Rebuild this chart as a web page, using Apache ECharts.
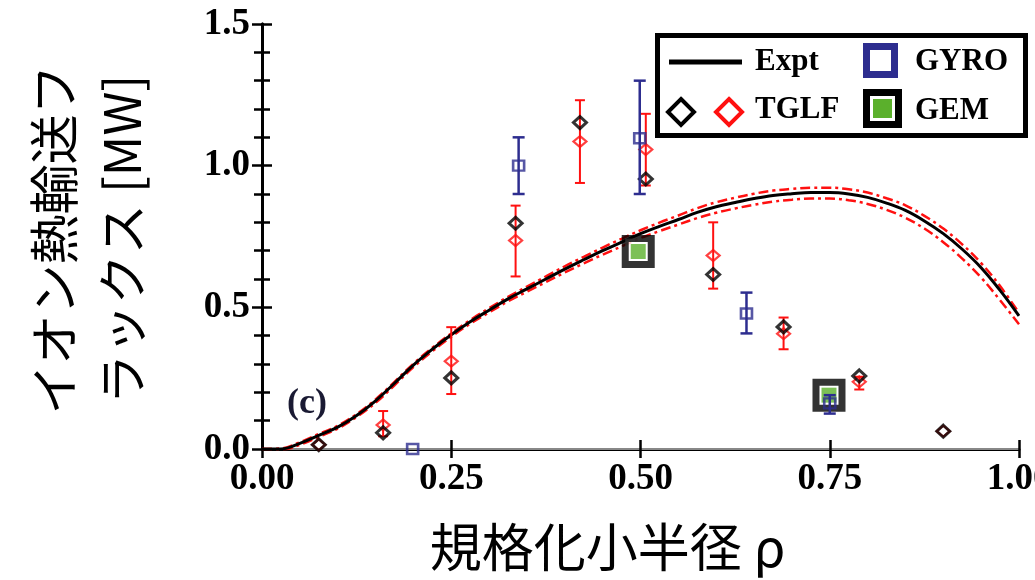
<!DOCTYPE html>
<html>
<head>
<meta charset="utf-8">
<script src="https://cdn.jsdelivr.net/npm/echarts@6/dist/echarts.min.js"></script>
<style>html,body{margin:0;padding:0;background:#fff;}#c{width:1035px;height:580px;}</style>
</head>
<body>
<div id="c"></div>
<script>
// ---- data ----
const exptRho = [0,0.025,0.05,0.075,0.1,0.125,0.15,0.175,0.2,0.225,0.25,0.275,0.3,0.325,0.35,0.375,0.4,0.425,0.45,0.475,0.5,0.525,0.55,0.575,0.6,0.625,0.65,0.675,0.7,0.725,0.75,0.775,0.8,0.825,0.85,0.875,0.9,0.925,0.95,0.975,1.0];
const expt = [0,0.0,0.02,0.048,0.077,0.118,0.17,0.232,0.296,0.352,0.403,0.449,0.49,0.53,0.565,0.60,0.635,0.668,0.70,0.73,0.76,0.786,0.81,0.835,0.855,0.87,0.884,0.895,0.901,0.905,0.905,0.90,0.888,0.868,0.842,0.805,0.76,0.705,0.64,0.56,0.47];
const exptUpper = [0,0.002,0.024,0.053,0.082,0.123,0.175,0.237,0.301,0.357,0.408,0.455,0.497,0.537,0.573,0.609,0.645,0.678,0.711,0.742,0.772,0.799,0.824,0.85,0.871,0.887,0.901,0.912,0.918,0.922,0.922,0.917,0.905,0.885,0.86,0.823,0.778,0.722,0.656,0.575,0.48];
const exptLower = [0,-0.003,0.015,0.043,0.072,0.113,0.163,0.225,0.289,0.345,0.396,0.442,0.482,0.521,0.555,0.589,0.623,0.655,0.686,0.715,0.744,0.769,0.792,0.815,0.834,0.849,0.862,0.873,0.88,0.884,0.884,0.878,0.865,0.844,0.816,0.778,0.73,0.672,0.605,0.525,0.44];

const tglfRho   = [0.075,0.16,0.25,0.335,0.42,0.507,0.596,0.689,0.789,0.90];
const tglfBlack = [0.015,0.057,0.251,0.797,1.152,0.953,0.616,0.431,0.258,0.063];
const tglfRed   = [0.015,0.085,0.31,0.736,1.085,1.057,0.683,0.407,0.237,0.063];
const tglfRedLo = [null,0.045,0.194,0.609,0.939,0.93,0.566,0.352,0.21,null];
const tglfRedHi = [null,0.134,0.43,0.859,1.231,1.183,0.80,0.464,0.255,null];

const gyroRho = [0.199,0.339,0.499,0.640,0.750];
const gyroVal = [0.0,1.0,1.097,0.478,0.161];
const gyroLo  = [null,0.90,0.90,0.408,0.125];
const gyroHi  = [null,1.10,1.30,0.552,0.19];

const gemRho = [0.497,0.749];
const gemVal = [0.697,0.19];

const xTicks = [0,0.25,0.5,0.75,1.0];
const yTicks = [0,0.5,1.0,1.5];

// ---- build ----
const zip = (a,b) => a.map((v,i)=>[v,b[i]]);
const zip3 = (a,b,c) => a.map((v,i)=>[v,b[i],c[i]]);
const RED = '#ff1010', BLUE = '#2d2d8f', GREEN = '#5bb02c';
const serif = 'Liberation Serif';

function errBar(color, lw, cap){
  return function(params, api){
    const lo = api.value(1), hi = api.value(2);
    if (isNaN(lo) || isNaN(hi)) return null;
    const x = api.value(0);
    const p1 = api.coord([x, lo]), p2 = api.coord([x, hi]);
    const st = {stroke: color, lineWidth: lw};
    return {type:'group', children:[
      {type:'line', shape:{x1:p1[0],y1:p1[1],x2:p2[0],y2:p2[1]}, style:st},
      {type:'line', shape:{x1:p1[0]-cap,y1:p1[1],x2:p1[0]+cap,y2:p1[1]}, style:st},
      {type:'line', shape:{x1:p2[0]-cap,y1:p2[1],x2:p2[0]+cap,y2:p2[1]}, style:st}
    ]};
  };
}

const axisLine = {lineStyle:{color:'#000', width:3}};
const labelStyle = {fontFamily: serif, fontWeight:'bold', fontSize:37, color:'#000'};

const option = {
  animation:false,
  backgroundColor:'#fff',
  grid:{left:262, right:16, top:24, bottom:131, containLabel:false, outerBoundsMode:'none'},
  xAxis:[{
    type:'value', min:0, max:1, interval:0.25, position:'bottom',
    axisLine, axisTick:{inside:true, length:9, lineStyle:{width:2.5,color:'#000'}},
    splitLine:{show:false},
    axisLabel:{...labelStyle, margin:12, hideOverlap:false, formatter: v => xTicks.includes(v) ? v.toFixed(2) : ''},
    name:'規格化小半径 ρ', nameLocation:'middle', nameGap:72,
    nameTextStyle:{fontFamily:'Noto Sans CJK JP', fontSize:52, color:'#000', padding:[0,66,0,0]}
  },{
    type:'value', min:0, max:1, interval:0.25, position:'top',
    axisLine:{lineStyle:{color:'#888', width:2}}, axisTick:{inside:true, length:9, lineStyle:{width:2.5,color:'#000'}},
    axisLabel:{show:false}, splitLine:{show:false}
  }],
  yAxis:[{
    type:'value', min:0, max:1.5, interval:0.5, position:'left',
    axisLine, axisTick:{inside:true, length:10, lineStyle:{width:2.5,color:'#000'}},
    minorTick:{show:true, splitNumber:5, length:8, lineStyle:{width:2.5,color:'#000'}},
    splitLine:{show:false},
    axisLabel:{...labelStyle, margin:12, formatter: v => yTicks.includes(v) ? v.toFixed(1) : ''},
    name:'イオン熱輸送フ\nラックス [MW]', nameLocation:'middle', nameRotate:90, nameGap:106,
    nameTextStyle:{fontFamily:'Noto Sans CJK JP', fontSize:50, lineHeight:68, color:'#000', align:'center', padding:[0,6,0,0]}
  },{
    type:'value', min:0, max:1.5, interval:0.5, position:'right',
    axisLine, axisTick:{inside:true, length:10, lineStyle:{width:2.5,color:'#000'}},
    minorTick:{show:true, splitNumber:5, length:8, lineStyle:{width:2.5,color:'#000'}},
    axisLabel:{show:false}, splitLine:{show:false}
  }],
  series:[
    {name:'upper', type:'line', data:zip(exptRho, exptUpper), smooth:0.4, symbol:'none',
     lineStyle:{color:RED, width:2.5, type:[10,4,3,4]}, z:2},
    {name:'lower', type:'line', data:zip(exptRho, exptLower), smooth:0.4, symbol:'none',
     lineStyle:{color:RED, width:2.5, type:[10,4,3,4]}, z:2},
    {name:'Expt', type:'line', data:zip(exptRho, expt), smooth:0.4, symbol:'none',
     lineStyle:{color:'#000', width:3}, z:3},
    {name:'GEM', type:'scatter', data:zip(gemRho, gemVal), symbol:'rect', symbolSize:26,
     itemStyle:{color:'#fff', borderColor:'#000', borderWidth:7}, z:4},
    {name:'GEMfill', type:'scatter', data:zip(gemRho, gemVal), symbol:'rect', symbolSize:15,
     itemStyle:{color:GREEN}, z:5},
    {name:'TGLFerr', type:'custom', renderItem:errBar(RED, 2, 5), data:zip3(tglfRho, tglfRedLo, tglfRedHi), z:6},
    {name:'TGLFred', type:'scatter', data:zip(tglfRho, tglfRed), symbol:'diamond', symbolSize:[13,11],
     itemStyle:{color:'rgba(0,0,0,0)', borderColor:RED, borderWidth:2.2}, z:7},
    {name:'TGLF', type:'scatter', data:zip(tglfRho, tglfBlack), symbol:'diamond', symbolSize:[13,12],
     itemStyle:{color:'rgba(0,0,0,0)', borderColor:'#000', borderWidth:3}, z:8},
    {name:'GYROerr', type:'custom', renderItem:errBar(BLUE, 2.5, 6), data:zip3(gyroRho, gyroLo, gyroHi), z:9},
    {name:'GYRO', type:'scatter', data:zip(gyroRho, gyroVal), symbol:'rect', symbolSize:[11,10],
     itemStyle:{color:'rgba(0,0,0,0)', borderColor:BLUE, borderWidth:2.5}, z:10, clip:false}
  ],
  graphic:[
    {type:'text', left:287, top:386, z:20,
     style:{text:'(c)', fontFamily:serif, fontWeight:'bold', fontSize:36, fill:'#1a1a33'}},
    {type:'group', left:655, top:33, z:30, children:[
      {type:'rect', shape:{x:2.5, y:2.5, width:368, height:100}, style:{fill:'#fff', stroke:'#000', lineWidth:5}},
      {type:'line', shape:{x1:14, y1:29, x2:87, y2:29}, style:{stroke:'#000', lineWidth:5}},
      {type:'text', x:100, y:29, style:{text:'Expt', fontFamily:serif, fontWeight:'bold', fontSize:31, fill:'#000', verticalAlign:'middle'}},
      {type:'rect', shape:{x:211.5, y:13.5, width:28, height:28}, style:{fill:'#fff', stroke:BLUE, lineWidth:7}},
      {type:'text', x:260, y:29, style:{text:'GYRO', fontFamily:serif, fontWeight:'bold', fontSize:31, fill:'#000', verticalAlign:'middle'}},
      {type:'polygon', shape:{points:[[26,66],[39,79],[26,92],[13,79]]}, style:{fill:'#fff', stroke:'#000', lineWidth:4}},
      {type:'polygon', shape:{points:[[74,66],[87,79],[74,92],[61,79]]}, style:{fill:'#fff', stroke:RED, lineWidth:4}},
      {type:'text', x:100, y:77, style:{text:'TGLF', fontFamily:serif, fontWeight:'bold', fontSize:31, fill:'#000', verticalAlign:'middle'}},
      {type:'rect', shape:{x:211.5, y:59.5, width:32, height:32}, style:{fill:'#fff', stroke:'#000', lineWidth:7}},
      {type:'rect', shape:{x:218, y:66, width:19, height:19}, style:{fill:GREEN}},
      {type:'text', x:260, y:78, style:{text:'GEM', fontFamily:serif, fontWeight:'bold', fontSize:31, fill:'#000', verticalAlign:'middle'}}
    ]}
  ]
};
const chart = echarts.init(document.getElementById('c'), null, {renderer:'canvas'});
chart.setOption(option);
</script>
</body>
</html>
